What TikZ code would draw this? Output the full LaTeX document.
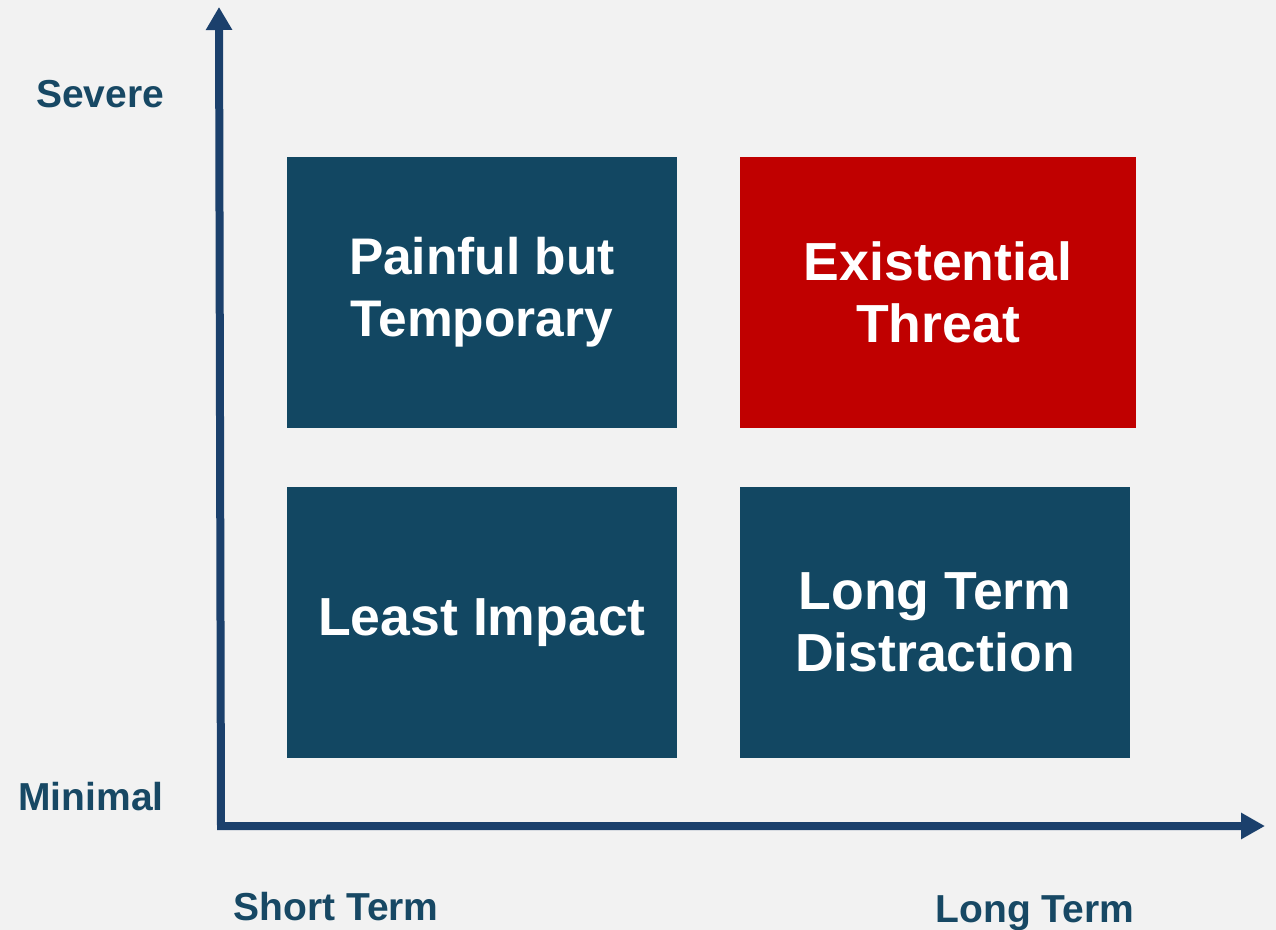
\documentclass[tikz,border=0pt]{standalone}
\usepackage{fontspec}
\setmainfont{Liberation Sans}
\usetikzlibrary{arrows.meta}
\definecolor{bgcol}{HTML}{F2F2F2}
\definecolor{boxcol}{HTML}{124762}
\definecolor{axiscol}{HTML}{1B406C}
\definecolor{labcol}{HTML}{174864}
\definecolor{redcol}{HTML}{C00000}
\tikzset{
  quad/.style={fill=boxcol,text=white,align=center,inner sep=0pt,
    minimum width=7.8cm,minimum height=5.42cm,
    font=\fontsize{30.5}{35.3}\selectfont\bfseries},
  axlabel/.style={text=labcol,inner sep=0pt,anchor=base,
    font=\fontsize{22.2}{24}\selectfont\bfseries},
}
\begin{document}
\begin{tikzpicture}[x=0.02cm,y=-0.02cm]
    \fill[bgcol] (0,0) rectangle (1276,930);
    \useasboundingbox (0,0) rectangle (1276,930);
    \coordinate (O) at (221,826);
    \coordinate (Ytop) at (219,7);
    \coordinate (Xend) at (1265,826);
    % axes
    \draw[axiscol,line width=0.16cm,
      {Triangle[width=0.5cm,length=0.46cm]}-{Triangle[width=0.5cm,length=0.48cm]}]
      (Ytop) -- (O) -- (Xend);
    % quadrants
    \node[quad,font=\fontsize{29.3}{35.3}\selectfont\bfseries] (painful) at (482,292.5) {Painful but\\Temporary};
    \node[quad,fill=redcol,minimum width=7.92cm] (threat) at (938,292.5) {Existential\\Threat};
    \node[quad] (least) at (482,622.5) {Least Impact};
    \node[quad] (distract) at (935,622.5) {Long Term\\Distraction};
    % axis labels
    \node[axlabel] (severe) at (100,107) {Severe};
    \node[axlabel] (minimal) at (91,810) {Minimal};
    \node[axlabel] (short) at (336,920) {Short Term};
    \node[axlabel] (long) at (1035,922) {Long Term};
\end{tikzpicture}
\end{document}
